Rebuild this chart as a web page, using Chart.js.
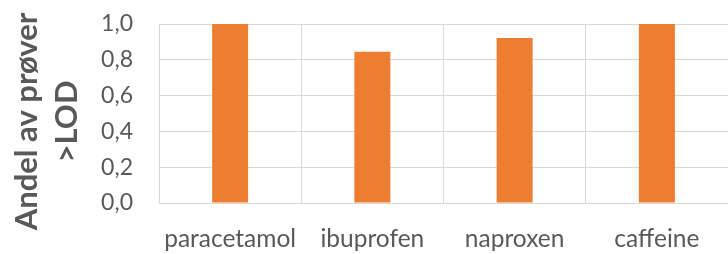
<!DOCTYPE html>
<html>
<head>
<meta charset="utf-8">
<script src="https://cdn.jsdelivr.net/npm/chart.js@4"></script>
<style>
  html, body { margin: 0; padding: 0; background: #ffffff; }
  #wrap { width: 728px; height: 254px; position: relative; }
</style>
</head>
<body>
<div id="wrap"><canvas id="c" width="728" height="254"></canvas></div>
<script>
const categories = ['paracetamol', 'ibuprofen', 'naproxen', 'caffeine'];
const shareAboveLOD = [1.0, 0.845, 0.922, 1.0];
const yTickValues = [0.0, 0.2, 0.4, 0.6, 0.8, 1.0];
const yTickLabels = ['0,0', '0,2', '0,4', '0,6', '0,8', '1,0'];
const yTitleLines = ['Andel av prøver', '>LOD'];

const textColor = '#595959';
const gridColor = '#D9D9D9';
const barColor = '#ED7D31';
const fontFamily = 'Lato, "Open Sans", sans-serif';

// Draws the two-line rotated y-axis title (real text) beside the y scale.
const yTitlePlugin = {
  id: 'yTitle',
  afterDraw(chart) {
    const ctx = chart.ctx;
    const area = chart.chartArea;
    ctx.save();
    ctx.fillStyle = textColor;
    ctx.font = 'bold 31px ' + fontFamily;
    ctx.textAlign = 'center';
    ctx.textBaseline = 'middle';
    const cy = (area.top + area.bottom) / 2 + 8;
    const xs = [27, 67];
    yTitleLines.forEach((line, i) => {
      ctx.save();
      ctx.translate(xs[i], cy);
      ctx.rotate(-Math.PI / 2);
      ctx.fillText(line, 0, 0);
      ctx.restore();
    });
    ctx.restore();
  }
};

new Chart(document.getElementById('c'), {
  type: 'bar',
  data: {
    labels: categories,
    datasets: [{
      data: shareAboveLOD,
      backgroundColor: barColor,
      borderWidth: 0,
      categoryPercentage: 1.0,
      barPercentage: 0.253
    }]
  },
  options: {
    responsive: false,
    animation: false,
    devicePixelRatio: 1,
    layout: { padding: { top: 24, right: -1, bottom: 0, left: 0 } },
    plugins: { legend: { display: false }, tooltip: { enabled: false } },
    scales: {
      x: {
        grid: { color: gridColor, lineWidth: 1, drawTicks: false, offset: true },
        border: { color: gridColor, width: 1 },
        ticks: {
          color: textColor,
          font: { family: fontFamily, size: 24.5 },
          padding: 21,
          maxRotation: 0,
          autoSkip: false
        },
        afterFit: (s) => { s.height = 51; s.paddingLeft = 0; s.paddingRight = 0; }
      },
      y: {
        min: 0,
        max: 1,
        grid: { color: gridColor, lineWidth: 1, drawTicks: false },
        border: { color: gridColor, width: 1 },
        afterBuildTicks: (s) => { s.ticks = yTickValues.map(v => ({ value: v })); },
        ticks: {
          color: textColor,
          font: { family: fontFamily, size: 23 },
          padding: 26,
          callback: (v) => {
            const i = yTickValues.findIndex(t => Math.abs(t - v) < 1e-9);
            return i >= 0 ? yTickLabels[i] : '';
          }
        },
        afterFit: (s) => { s.width = 159; s.paddingTop = 0; s.paddingBottom = 0; }
      }
    }
  },
  plugins: [yTitlePlugin]
});
</script>
</body>
</html>
